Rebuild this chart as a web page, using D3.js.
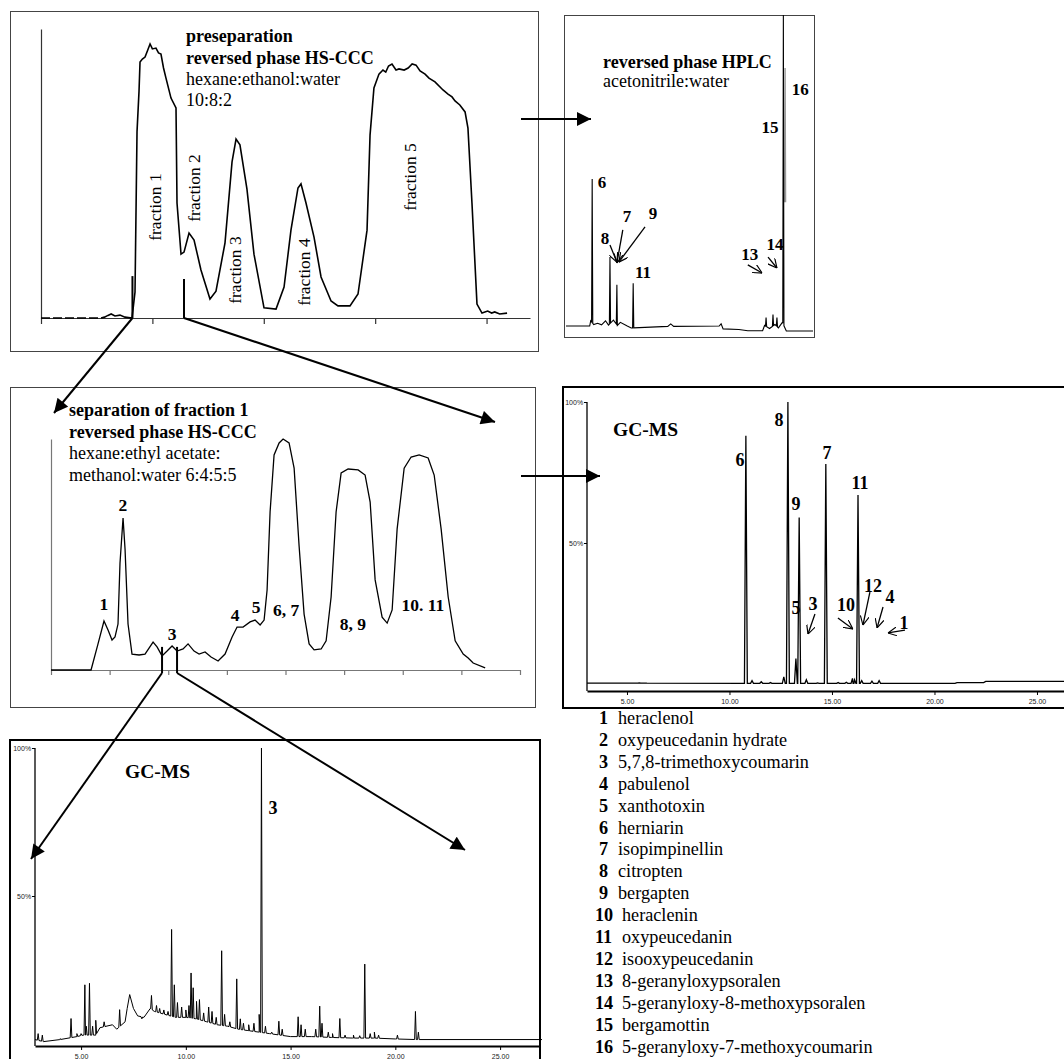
<!DOCTYPE html>
<html>
<head>
<meta charset="utf-8">
<script src="https://cdn.jsdelivr.net/npm/d3@7"></script>
<style>
  body { margin: 0; background: #fff; }
  svg { display: block; font-family: "Liberation Serif", "Times New Roman", serif; }
  .tick text { font-family: "Liberation Sans", Arial, sans-serif; }
</style>
</head>
<body>
<svg id="fig" width="1064" height="1059"></svg>
<script>
// ---- data ----

// preseparation HS-CCC chromatogram [elution, signal %]
const preTrace = [[0,0],[53.9,0],[57,0.3],[60.1,0.9],[63,1.4],[66.4,0.7],[70.9,1.0],[75.4,0.3],[81.7,0],
  [84.4,9.0],[86.2,64.4],[88.0,78.5],[88.9,88.6],[91,89.6],[93.4,90.3],[95.5,92.4],[97.9,94.8],[100,93.1],
  [103.2,93.4],[105.5,91.7],[107.7,91.3],[110,86.5],[112.2,83.0],[116.7,76.1],[121.2,72.7],
  [122.1,39.8],[125.7,22.1],[128.4,22.8],[132.9,29.4],[137.4,27.0],[143.6,16.6],[151.7,6.6],[157.1,9.3],
  [165.2,26.0],[171.5,54.0],[175.1,61.9],[178.6,59.9],[184.9,44.6],[191.2,22.1],[200.2,3.5],[211.0,3.1],
  [218.2,10.7],[224.4,30.4],[230.7,45.0],[233.4,46.4],[237.9,39.8],[245.1,28.0],[251.4,14.2],[260.4,5.9],
  [266.6,4.2],[277.4,4.2],[284.6,8.3],[292.7,30.4],[295.4,63.3],[298.9,79.6],[303.4,84.4],[307,85.8],
  [309.5,85.1],[312,87.2],[315.1,87.9],[318.7,85.8],[321.4,86.2],[326,85.8],[329.6,86.5],[333.2,87.9],
  [336.7,87.5],[340.3,85.5],[344.8,84.4],[348.3,83.0],[353.7,81.7],[360.9,78.9],[365.4,77.5],[369,76.5],
  [371.7,75.1],[376,73.7],[380.7,71.3],[383.3,65.7],[386.9,39.8],[391.4,4.8],[395.9,1.7],[401,2.4],
  [404.6,1.7],[407.3,2.1],[411.8,1.4],[418.4,1.7]];
const preTicks = [0, 100, 200, 300, 400];
const preCuts = [82.1, 128.4];
const preCutTops = [14.5, 13.5];
const preFractions = [["fraction 1",102.3,38.4],["fraction 2",137.4,45.0],["fraction 3",174.2,16.6],
  ["fraction 4",236.1,15.9],["fraction 5",331.3,48.8]];

// reversed phase HPLC
const hplcBase = [[0,0.3],[4.8,0.3],[5.0,2.0],[5.6,0.8],[6.4,1.2],[7.2,0.7],[8.0,2.0],[8.6,0.6],[9.6,2.2],
  [10.4,0.5],[11.0,1.5],[12.4,0.3],[13.2,-0.3],[20.6,0.2],[21.2,1.0],[21.8,0.2],[31.0,0.3],[31.4,1.0],
  [31.8,-0.6],[35.0,-0.8],[36.8,-1.2],[39.8,-1.2],[40.2,0.5],[41.2,-0.5],[42.3,0.8],[43.0,-0.3],[43.8,1.5],
  [44.6,-1.3],[50,-1.3]];
const hplcPeaks = [[5.3,47.4],[8.9,22.4],[10.3,13.5],[13.6,14],[40.5,3],[41.9,4],[42.7,3],[44.0,100]];
const hplcPeak15 = [44.35, 83];
const hplcLabels = [["6",7.29,46.2],["7",12.35,35.3],["9",17.6,36.5],["8",7.9,28.5],["11",15.6,17.6],
  ["13",37.2,23.1],["14",42.3,26.3],["15",41.3,63.8],["16",47.4,76.0]];
const hplcPointers = [[[8.9,26.3],[10.3,20.8]],[[11.5,31.1],[10.3,20.5]],[[16.0,32.1],[10.7,20.8]],
  [[36.8,19.9],[39.7,17.3]],[[40.9,22.4],[42.7,18.9]]];

// separation of fraction 1, HS-CCC
const sepTrace = [[0,0],[0.683,0],[0.802,11.3],[0.904,21.2],[0.973,17.3],[1.041,13.0],[1.092,14.3],
  [1.143,19.9],[1.177,46.3],[1.229,65.8],[1.263,52.4],[1.314,19.9],[1.382,6.9],[1.502,6.5],[1.604,6.9],
  [1.741,12.1],[1.809,10.0],[1.894,6.1],[1.980,8.2],[2.065,10.4],[2.150,8.2],[2.253,9.1],[2.338,11.3],
  [2.440,8.2],[2.526,6.9],[2.628,7.8],[2.730,5.6],[2.850,3.9],[2.969,6.9],[3.089,14.3],[3.174,18.6],
  [3.276,18.6],[3.396,20.8],[3.481,21.6],[3.567,19.5],[3.635,21.6],[3.686,34.6],[3.737,68.4],[3.805,93.1],
  [3.891,98.3],[3.959,100],[4.061,98.3],[4.147,87.4],[4.232,53.7],[4.317,24.2],[4.403,11.3],[4.488,8.7],
  [4.608,9.1],[4.693,12.6],[4.778,31.6],[4.863,68.4],[4.949,85.3],[5.068,87.0],[5.239,86.6],[5.358,84.4],
  [5.444,72.7],[5.529,39.0],[5.648,22.9],[5.734,20.3],[5.819,26.0],[5.904,61.0],[6.024,87.4],[6.143,92.2],
  [6.280,93.1],[6.433,91.8],[6.536,84.4],[6.655,61.0],[6.775,31.6],[6.894,12.6],[7.031,6.9],[7.116,5.2],
  [7.201,3.0],[7.406,0.9]];
const sepTicks = [0, 1, 2, 3, 4, 5, 6, 7, 8];
const sepCuts = [1.894, 2.150];
const sepLabels = [["1",0.904,28.6],["2",1.228,71.4],["3",2.064,15.6],["4",3.139,23.8],["5",3.497,27.3],
  ["6, 7",4.009,26.0],["8, 9",5.151,19.9],["10. 11",6.345,28.1]];

// GC-MS of fractions 6-11 region [min, %]
const gc1Base = [[3.05,0.3],[21.0,0.2],[21.1,0.5],[22.4,0.5],[22.5,0.9],[26.5,0.9]];
const gc1Peaks = [[5.6,0.4],[5.9,0.3],[10.8,88],[11.1,1.2],[11.55,0.8],[12.0,0.5],[12.65,2.5],[12.85,100],
  [13.24,9],[13.4,59],[13.75,1.5],[14.3,0.4],[14.7,78],[15.3,0.5],[15.7,0.6],[16.0,2],[16.1,1.5],[16.27,67],
  [16.45,1.2],[16.95,1],[17.3,1.2]];
const gc1Labels = [["6",10.51,79.4],["8",12.41,93.6],["7",14.76,81.9],["9",13.24,63.8],["11",16.37,71.3],
  ["5",13.24,27.0],["3",14.07,28.4],["10",15.68,28.0],["12",17.0,34.8],["4",17.83,30.9],["1",18.51,21.6]];
const gc1Pointers = [[[14.17,24.8],[13.83,17.7]],[[15.29,23.4],[16.02,19.5]],[[16.85,32.6],[16.51,20.9]],
  [[17.49,27.3],[17.20,19.9]],[[18.56,19.1],[17.73,18.1]]];

// GC-MS of the cut around compound 3
const gc2Base = [[2.8,1.5],[3.2,0.8],[4.0,1.5],[4.8,2.5],[5.1,3],[5.7,3],[5.9,5.5],[6.5,6.5],[6.7,5],
  [7.1,7.5],[7.2,12],[7.32,16.7],[7.5,12],[7.7,9.5],[8.0,9],[8.3,12],[8.5,11],[9.0,10],[9.5,9],[10.0,9],
  [10.5,8.5],[11.0,7.5],[11.5,6.5],[12.0,6],[12.5,5],[13.0,4.5],[13.5,4],[14.0,3.5],[15.0,2.5],[16.0,2.5],
  [17.0,2.2],[18.0,2],[19.0,2],[20.0,1.7],[21.0,1.5],[27.0,1.5]];
const gc2Peaks = [[2.95,3.5],[3.15,3],[4.0,1.8],[4.52,8.6],[4.8,3.5],[5.0,3.5],[5.18,20],[5.25,6],[5.4,20.5],
  [5.55,6],[5.7,8],[6.1,7.5],[6.84,11.6],[7.9,8.5],[8.36,16.4],[8.6,13],[8.75,12],[8.95,11.5],[9.15,11],
  [9.32,38.7],[9.45,20],[9.6,14],[9.8,12.5],[10.0,11.5],[10.15,13],[10.25,24],[10.35,19],[10.51,14.4],
  [10.65,15],[10.85,10.5],[11.09,12.5],[11.25,11],[11.45,9],[11.71,31.5],[11.85,10],[12.1,7.5],[12.43,22],
  [12.6,8.5],[12.75,7],[13.0,6.5],[13.25,7],[13.5,10],[13.61,100],[13.8,6],[14.1,4],[14.44,7.7],[14.6,5],
  [15.36,9.2],[15.5,6.5],[15.7,5],[16.2,5],[16.39,12.8],[16.5,7],[16.8,4],[17.0,3.5],[17.35,8.6],[17.6,3],
  [18.0,3],[18.3,2.8],[18.54,27],[18.8,3.5],[19.0,4],[19.2,3],[20.1,3],[20.96,11],[21.1,4]];
const gc2Label = ["3", 14.16, 79.7];

const gcTicks = [5, 10, 15, 20, 25];
const pctTicks = [50, 100];

const compounds = ["heraclenol","oxypeucedanin hydrate","5,7,8-trimethoxycoumarin","pabulenol","xanthotoxin",
  "herniarin","isopimpinellin","citropten","bergapten","heraclenin","oxypeucedanin","isooxypeucedanin",
  "8-geranyloxypsoralen","5-geranyloxy-8-methoxypsoralen","bergamottin","5-geranyloxy-7-methoxycoumarin"];

// ---- drawing ----
const svg = d3.select('#fig');

const defs = svg.append('defs');
defs.append('marker').attr('id', 'tri')
  .attr('viewBox', '0 0 10 10').attr('refX', 10).attr('refY', 5)
  .attr('markerUnits', 'userSpaceOnUse').attr('markerWidth', 16).attr('markerHeight', 14)
  .attr('orient', 'auto')
  .append('path').attr('d', 'M0,0L10,5L0,10Z').attr('fill', '#000');
defs.append('marker').attr('id', 'vee')
  .attr('viewBox', '0 0 10 10').attr('refX', 10).attr('refY', 5)
  .attr('markerUnits', 'userSpaceOnUse').attr('markerWidth', 9).attr('markerHeight', 9)
  .attr('orient', 'auto')
  .append('path').attr('d', 'M0,0L10,5L0,10').attr('fill', 'none').attr('stroke', '#000').attr('stroke-width', 1.3);

function box(x, y, w, h, sw, col) {
  svg.append('rect').attr('x', x).attr('y', y).attr('width', w).attr('height', h)
    .attr('fill', 'none').attr('stroke', col).attr('stroke-width', sw);
}

function buildTrace(base, peaks, w) {
  const foot = d3.scaleLinear().domain(base.map(d => d[0])).range(base.map(d => d[1]));
  const pts = base.slice();
  peaks.forEach(([t, h]) => pts.push([t - w, foot(t - w)], [t, h], [t + w, foot(t + w)]));
  return pts.sort((a, b) => a[0] - b[0]);
}

function lines(g, rows, x0, y0, size) {
  rows.forEach(([txt, bold], i) => {
    g.append('text').attr('x', x0).attr('y', y0[i]).attr('font-size', size)
      .attr('font-weight', bold ? 'bold' : 'normal').text(txt);
  });
}

function labels(g, data, x, y, size) {
  g.selectAll(null).data(data).join('text')
    .attr('x', d => x(d[1])).attr('y', d => y(d[2]))
    .attr('text-anchor', 'middle').attr('dominant-baseline', 'central')
    .attr('font-size', size).attr('font-weight', 'bold').text(d => d[0]);
}

function pointers(g, data, x, y) {
  g.selectAll(null).data(data).join('line')
    .attr('x1', d => x(d[0][0])).attr('y1', d => y(d[0][1]))
    .attr('x2', d => x(d[1][0])).attr('y2', d => y(d[1][1]))
    .attr('stroke', '#000').attr('stroke-width', 1.3).attr('marker-end', 'url(#vee)');
}

// 1. preseparation
box(10.5, 11.5, 528, 340, 1, '#444');
const x1 = d3.scaleLinear().domain([0, 439]).range([41, 530]);
const y1 = d3.scaleLinear().domain([0, 100]).range([318, 29]);
const g1 = svg.append('g');
g1.append('g').attr('transform', 'translate(0,318)')
  .call(d3.axisBottom(x1).tickValues(preTicks).tickFormat('').tickSize(6).tickSizeOuter(0))
  .call(a => a.selectAll('path,line').attr('stroke', '#333').attr('stroke-width', 1.2));
g1.append('g').attr('transform', 'translate(41,0)')
  .call(d3.axisLeft(y1).tickValues([]).tickSizeOuter(0))
  .call(a => a.selectAll('path').attr('stroke', '#333').attr('stroke-width', 1.2));
const line1 = d3.line().x(d => x1(d[0])).y(d => y1(d[1]));
g1.append('path').attr('d', line1(preTrace.filter(d => d[0] <= 54)))
  .attr('fill', 'none').attr('stroke', '#000').attr('stroke-width', 1.6).attr('stroke-dasharray', '9,3');
g1.append('path').attr('d', line1(preTrace.filter(d => d[0] >= 53.9)))
  .attr('fill', 'none').attr('stroke', '#000').attr('stroke-width', 1.6);
preCuts.forEach((t, i) => {
  g1.append('line').attr('x1', x1(t)).attr('x2', x1(t)).attr('y1', y1(0)).attr('y2', y1(preCutTops[i]))
    .attr('stroke', '#000').attr('stroke-width', 2);
});
g1.selectAll(null).data(preFractions).join('text')
  .attr('transform', d => `translate(${x1(d[1])},${y1(d[2])}) rotate(-90)`)
  .attr('text-anchor', 'middle').attr('dominant-baseline', 'central')
  .attr('font-size', 17.5).text(d => d[0]);
lines(g1, [["preseparation", true], ["reversed phase HS-CCC", true], ["hexane:ethanol:water", false], ["10:8:2", false]],
  186, [42, 64, 85, 106], 18);

// 2. HPLC
box(564.5, 15.5, 250, 322, 1, '#444');
const x2 = d3.scaleLinear().domain([0, 50]).range([566, 813]);
const y2 = d3.scaleLinear().domain([0, 100]).range([327, 15]);
const g2 = svg.append('g');
const line2 = d3.line().x(d => x2(d[0])).y(d => y2(d[1]));
g2.append('path').attr('d', line2([[hplcPeak15[0] - 0.1, 40], hplcPeak15, [hplcPeak15[0] + 0.1, 40]]))
  .attr('fill', 'none').attr('stroke', '#999').attr('stroke-width', 1.4);
g2.append('path').attr('d', line2(buildTrace(hplcBase, hplcPeaks, 0.12)))
  .attr('fill', 'none').attr('stroke', '#000').attr('stroke-width', 1.1);
labels(g2, hplcLabels, x2, y2, 17);
pointers(g2, hplcPointers, x2, y2);
lines(g2, [["reversed phase HPLC", true], ["acetonitrile:water", false]], 603, [68, 87], 18);

// 3. separation of fraction 1
box(10.5, 387.5, 525, 320, 1, '#444');
const x3 = d3.scaleLinear().domain([0, 8]).range([51, 520]);
const y3 = d3.scaleLinear().domain([0, 100]).range([670, 439]);
const g3 = svg.append('g');
g3.append('g').attr('transform', 'translate(0,670)')
  .call(d3.axisBottom(x3).tickValues(sepTicks).tickFormat('').tickSize(5).tickSizeOuter(0))
  .call(a => a.selectAll('path,line').attr('stroke', '#777').attr('stroke-width', 1.2));
g3.append('g').attr('transform', 'translate(51,0)')
  .call(d3.axisLeft(y3).tickValues([]).tickSizeOuter(0))
  .call(a => a.selectAll('path').attr('stroke', '#777').attr('stroke-width', 1.2));
const line3 = d3.line().x(d => x3(d[0])).y(d => y3(d[1]));
g3.append('path').attr('d', line3(sepTrace)).attr('fill', 'none').attr('stroke', '#000').attr('stroke-width', 1.3);
sepCuts.forEach(t => {
  g3.append('line').attr('x1', x3(t)).attr('x2', x3(t)).attr('y1', y3(-1.3)).attr('y2', y3(10))
    .attr('stroke', '#000').attr('stroke-width', 2);
});
labels(g3, sepLabels, x3, y3, 17.5);
lines(g3, [["separation of fraction 1", true], ["reversed phase HS-CCC", true], ["hexane:ethyl acetate:", false],
  ["methanol:water 6:4:5:5", false]], 69, [416, 438, 459, 481], 18);

// GC-MS axes helper
function gcAxes(g, x, y, axisY, left) {
  g.append('g').attr('transform', `translate(0,${axisY})`)
    .call(d3.axisBottom(x).tickValues(gcTicks).tickFormat(d3.format('.2f')).tickSize(4).tickSizeOuter(0))
    .call(a => a.select('.domain').attr('stroke-width', 2))
    .call(a => a.selectAll('text').attr('font-size', 7).attr('fill', '#222').attr('dy', '0.9em'));
  g.append('line').attr('x1', left).attr('x2', left).attr('y1', y(100)).attr('y2', axisY)
    .attr('stroke', '#000').attr('stroke-width', 1.3);
  g.append('g').attr('transform', `translate(${left},0)`)
    .call(d3.axisLeft(y).tickValues(pctTicks).tickFormat(d => d + '%').tickSize(3).tickSizeOuter(0))
    .call(a => a.select('.domain').remove())
    .call(a => a.selectAll('text').attr('font-size', 7).attr('fill', '#222').attr('dx', '0.3em'));
}

// 4. GC-MS (middle right)
box(563, 387, 510, 321, 2, '#000');
const x4 = d3.scaleLinear().domain([3.05, 26.4]).range([587, 587 + 23.35 * 20.5]);
const y4 = d3.scaleLinear().domain([0, 100]).range([684, 402]);
const g4 = svg.append('g');
gcAxes(g4, x4, y4, 691, 587);
const line4 = d3.line().x(d => x4(d[0])).y(d => y4(d[1]));
g4.append('path').attr('d', line4(buildTrace(gc1Base, gc1Peaks, 0.07)))
  .attr('fill', 'none').attr('stroke', '#000').attr('stroke-width', 1.3);
labels(g4, gc1Labels, x4, y4, 18);
pointers(g4, gc1Pointers, x4, y4);
g4.append('text').attr('x', 613).attr('y', 436).attr('font-size', 19.5).attr('font-weight', 'bold').text('GC-MS');

// 5. GC-MS (bottom left)
box(10, 740, 530, 330, 2, '#000');
const x5 = d3.scaleLinear().domain([2.8, 26.9]).range([35, 35 + 24.1 * 20.95]);
const y5 = d3.scaleLinear().domain([0, 100]).range([1044, 748]);
const g5 = svg.append('g');
gcAxes(g5, x5, y5, 1046, 35);
const line5 = d3.line().x(d => x5(d[0])).y(d => y5(d[1]));
g5.append('path').attr('d', line5(buildTrace(gc2Base, gc2Peaks, 0.04)))
  .attr('fill', 'none').attr('stroke', '#000').attr('stroke-width', 1);
labels(g5, [gc2Label], x5, y5, 18);
g5.append('text').attr('x', 125).attr('y', 778).attr('font-size', 19.5).attr('font-weight', 'bold').text('GC-MS');

// connecting arrows
const arrows = [
  [[521, 119], [591, 119]],
  [[x1(preCuts[0]), y1(0)], [54, 413]],
  [[x1(preCuts[1]), y1(0)], [495, 422]],
  [[521, 476], [600, 476]],
  [[x3(sepCuts[0]), y3(-1.3)], [31, 859]],
  [[x3(sepCuts[1]), y3(-1.3)], [465, 850]]
];
svg.append('g').selectAll('line').data(arrows).join('line')
  .attr('x1', d => d[0][0]).attr('y1', d => d[0][1])
  .attr('x2', d => d[1][0]).attr('y2', d => d[1][1])
  .attr('stroke', '#000').attr('stroke-width', 2).attr('marker-end', 'url(#tri)');

// compound legend
const leg = svg.append('g');
compounds.forEach((name, i) => {
  const n = i + 1;
  const yy = 718 + i * 21.9;
  leg.append('text').attr('x', n < 10 ? 599 : 595).attr('y', yy).attr('dominant-baseline', 'central')
    .attr('font-size', 18.2).attr('font-weight', 'bold').text(n);
  leg.append('text').attr('x', n < 10 ? 618 : 622).attr('y', yy).attr('dominant-baseline', 'central')
    .attr('font-size', 18.2).text(name);
});
</script>
</body>
</html>
